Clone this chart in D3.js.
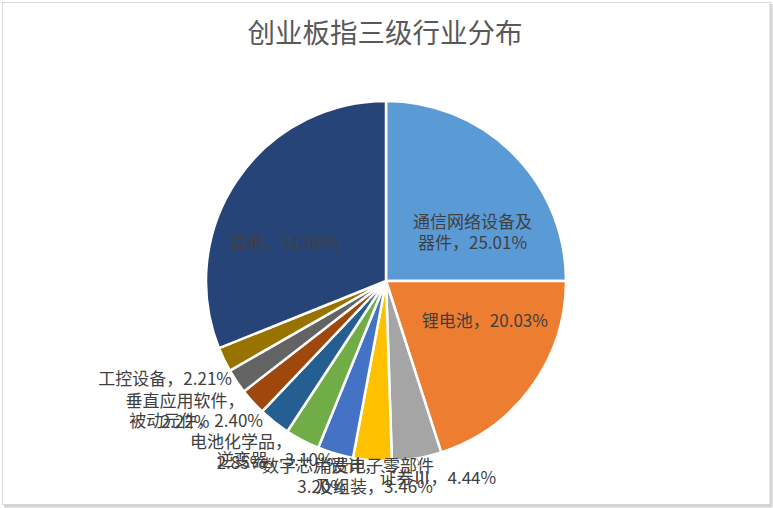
<!DOCTYPE html>
<html>
<head>
<meta charset="utf-8">
<script src="https://cdn.jsdelivr.net/npm/d3@7"></script>
<style>
	html, body { margin: 0; padding: 0; background: #fff; }
	svg { display: block; font-family: "Noto Sans CJK SC", "Noto Sans", sans-serif; }
</style>
</head>
<body>
<div id="chart"></div>
<script>

const title = "创业板指三级行业分布";

const categories = ["通信网络设备及器件", "锂电池", "证券Ⅲ", "消费电子零部件及组装", "数字芯片设计",
	"逆变器", "电池化学品", "被动元件", "垂直应用软件", "工控设备", "其他"];

const shares = [25.01, 20.03, 4.44, 3.46, 3.20, 3.10, 2.85, 2.40, 2.22, 2.21, 31.08];

// label text as Excel wraps it
const labelText = [
	"通信网络设备及\n器件，25.01%",
	"锂电池，20.03%",
	"证券Ⅲ，4.44%",
	"消费电子零部件\n及组装，3.46%",
	"数字芯片设计，\n3.20%",
	"逆变器，3.10%",
	"电池化学品，\n2.85%",
	"被动元件，2.40%",
	"垂直应用软件，\n2.22%",
	"工控设备，2.21%",
	"其他，31.08%"
];

const colors = ["#5b9bd5", "#ed7d31", "#a5a5a5", "#ffc000", "#4472c4", "#70ad47",
	"#255e91", "#9e480e", "#636363", "#997300", "#264478"];

const w = 773, h = 508;
const cx = 386, cy = 281, R = 180;
const lh = 21;

const data = categories.map((c, i) => ({key: c, value: shares[i], label: labelText[i]}));

const color = d3.scaleOrdinal().domain(categories).range(colors);

const pie = d3.pie()
	.sort(null)
	.value(d => d.value);

const arc = d3.arc()
	.innerRadius(0)
	.outerRadius(R);

const svg = d3.select("#chart")
	.append("svg")
	.attr("width", w)
	.attr("height", h);

// chart frame
svg.append("rect")
	.attr("x", 2.5).attr("y", 2.5)
	.attr("width", w - 5).attr("height", h - 6)
	.attr("fill", "#fff")
	.attr("stroke", "#d9d9d9");
svg.append("path")
	.attr("d", `M${w - 2},4V${h - 2}H4`)
	.attr("fill", "none")
	.attr("stroke", "#d4d4d4")
	.attr("stroke-width", 3);

svg.append("text")
	.attr("x", cx - 1)
	.attr("y", 43)
	.attr("text-anchor", "middle")
	.style("font-size", "27.5px")
	.style("fill", "#595959")
	.text(title);

const plot = svg.append("g")
	.attr("transform", `translate(${cx},${cy})`);

const arcs = pie(data);

plot.selectAll(".slice")
	.data(arcs)
	.enter()
	.append("path")
	.attr("class", "slice")
	.attr("d", arc)
	.attr("fill", d => color(d.data.key))
	.attr("stroke", "#fff")
	.attr("stroke-width", 2.5)
	.attr("stroke-linejoin", "round");

const labels = plot.selectAll(".lbl")
	.data(arcs)
	.enter()
	.append("text")
	.attr("class", "lbl")
	.attr("text-anchor", "middle")
	.style("font-size", "17px")
	.style("fill", "#404040");

labels.each(function(d){
	const t = d3.select(this);
	const lines = d.data.label.split("\n");
	lines.forEach(l => t.append("tspan").text(l));
	const widths = [];
	t.selectAll("tspan").each(function(){ widths.push(this.getComputedTextLength()); });
	const bw = d3.max(widths);
	const bh = lines.length * lh;
	const a = (d.startAngle + d.endAngle) / 2;
	const s = Math.sin(a), c = Math.cos(a);
	let x, top;
	if (d.data.value > 10) {
		// inside label
		x = s * R * 0.68;
		top = -c * R * 0.38 - bh / 2;
	} else {
		const px = s * R, py = -c * R;
		x = px + 8 + (bw / 2) * Math.max(-1, Math.min(1, 1.3 * s));
		top = Math.min(py + 9, (h - 10 - cy) - bh);
		d.lead = [[px, py], [px + 5, top + 1]];
		d.right = s > 0;
	}
	t.selectAll("tspan")
		.attr("x", x)
		.attr("y", (l, i) => top + lh * (i + 0.5))
		.attr("dy", "0.35em");
});

// leader line for labels pushed off the right-hand slices
plot.selectAll(".lead")
	.data(arcs.filter(d => d.lead && d.right))
	.enter()
	.append("path")
	.attr("class", "lead")
	.attr("d", d => d3.line()(d.lead))
	.attr("fill", "none")
	.attr("stroke", "#a6a6a6")
	.attr("stroke-width", 1);

</script>
</body>
</html>
